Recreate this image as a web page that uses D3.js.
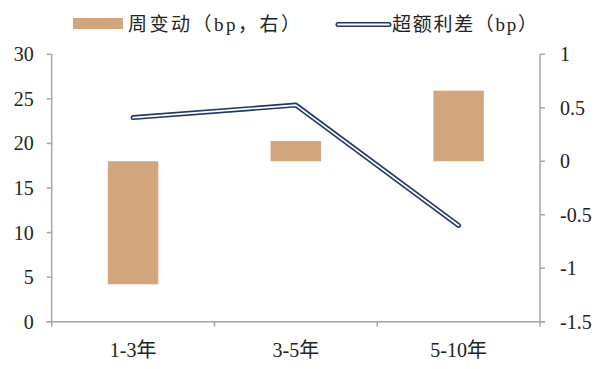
<!DOCTYPE html>
<html>
<head>
<meta charset="utf-8">
<script src="https://cdn.jsdelivr.net/npm/d3@7"></script>
<style>
  body { margin: 0; background: #fff; }
  text { font-family: "Liberation Serif", "Noto Sans CJK SC", serif; fill: #222; }
</style>
</head>
<body>
<div id="chart"></div>
<script>
// chart data
var categories = ["1-3年", "3-5年", "5-10年"];
var weeklyChange = [-1.15, 0.19, 0.66];     // bars, right axis
var excessSpread = [22.9, 24.3, 10.8];      // line, left axis
var leftTicks = [0, 5, 10, 15, 20, 25, 30];
var rightTicks = [-1.5, -1, -0.5, 0, 0.5, 1];
var legendLabels = ["周变动（bp，右）", "超额利差（bp）"];

var width = 603, height = 369;
var plotLeft = 51.7, plotRight = 540, plotTop = 54.3, plotBottom = 321.7;
var barColor = "#d3a57d", lineColor = "#1f3864", axisColor = "#a6a6a6";

var svg = d3.select("#chart").append("svg")
    .attr("width", width)
    .attr("height", height);

var x = d3.scaleBand().domain(categories).range([plotLeft, plotRight]);
var yL = d3.scaleLinear().domain([0, 30]).range([plotBottom, plotTop]);
var yR = d3.scaleLinear().domain([-1.5, 1]).range([plotBottom, plotTop]);

// bars, hanging from 0 of the right axis
var barW = x.bandwidth() * 0.31;
svg.selectAll("rect.bar")
    .data(weeklyChange)
    .enter()
    .append("rect")
    .attr("class", "bar")
    .attr("x", function (d, i) { return x(categories[i]) + x.bandwidth() / 2 - barW / 2; })
    .attr("y", function (d) { return yR(Math.max(0, d)); })
    .attr("width", barW)
    .attr("height", function (d) { return Math.abs(yR(d) - yR(0)); })
    .attr("fill", barColor);

// axes lines
var axes = svg.append("g").attr("stroke", axisColor).attr("stroke-width", 1.5);
axes.append("line").attr("x1", plotLeft).attr("x2", plotLeft).attr("y1", plotTop).attr("y2", plotBottom);
axes.append("line").attr("x1", plotRight).attr("x2", plotRight).attr("y1", plotTop).attr("y2", plotBottom);
axes.append("line").attr("x1", plotLeft - 5).attr("x2", plotRight + 5).attr("y1", plotBottom).attr("y2", plotBottom);

// left ticks
axes.selectAll("line.lt").data(leftTicks).enter().append("line")
    .attr("x1", plotLeft - 5).attr("x2", plotLeft)
    .attr("y1", function (d) { return yL(d); }).attr("y2", function (d) { return yL(d); });
svg.selectAll("text.lt").data(leftTicks).enter().append("text")
    .attr("x", plotLeft - 18).attr("y", function (d) { return yL(d); })
    .attr("dy", "0.35em").attr("text-anchor", "end")
    .style("font-size", "20px")
    .text(function (d) { return d; });

// right ticks
axes.selectAll("line.rt").data(rightTicks).enter().append("line")
    .attr("x1", plotRight).attr("x2", plotRight + 5)
    .attr("y1", function (d) { return yR(d); }).attr("y2", function (d) { return yR(d); });
svg.selectAll("text.rt").data(rightTicks).enter().append("text")
    .attr("x", plotRight + 20).attr("y", function (d) { return yR(d); })
    .attr("dy", "0.35em").attr("text-anchor", "start")
    .style("font-size", "20px")
    .text(function (d) { return String(d); });

// category ticks at band edges
var edges = categories.map(function (c) { return x(c); }).concat([plotRight]);
axes.selectAll("line.ct").data(edges).enter().append("line")
    .attr("x1", function (d) { return d; }).attr("x2", function (d) { return d; })
    .attr("y1", plotBottom).attr("y2", plotBottom + 5);
svg.selectAll("text.ct").data(categories).enter().append("text")
    .attr("x", function (d) { return x(d) + x.bandwidth() / 2; })
    .attr("y", plotBottom + 28)
    .attr("dy", "0.35em").attr("text-anchor", "middle")
    .style("font-size", "20px")
    .text(function (d) { return d; });

// double line: navy outer, white core
var line = d3.line()
    .x(function (d, i) { return x(categories[i]) + x.bandwidth() / 2; })
    .y(function (d) { return yL(d); });
svg.append("path").datum(excessSpread)
    .attr("d", line).attr("fill", "none")
    .attr("stroke", lineColor).attr("stroke-width", 5)
    .attr("stroke-linejoin", "round").attr("stroke-linecap", "round");
svg.append("path").datum(excessSpread)
    .attr("d", line).attr("fill", "none")
    .attr("stroke", "#fff").attr("stroke-width", 1.8)
    .attr("stroke-linejoin", "round").attr("stroke-linecap", "round");

// legend
var lg = svg.append("g");
lg.append("rect").attr("x", 73).attr("y", 18).attr("width", 50).attr("height", 11).attr("fill", barColor);
lg.append("text").attr("x", 128).attr("y", 24).attr("dy", "0.35em")
    .style("font-size", "19px")
    .attr("textLength", 172).attr("lengthAdjust", "spacing")
    .text(legendLabels[0]);
lg.append("line").attr("x1", 338).attr("x2", 389).attr("y1", 24.5).attr("y2", 24.5)
    .attr("stroke", lineColor).attr("stroke-width", 5).attr("stroke-linecap", "round");
lg.append("line").attr("x1", 338).attr("x2", 389).attr("y1", 24.5).attr("y2", 24.5)
    .attr("stroke", "#fff").attr("stroke-width", 1.8).attr("stroke-linecap", "round");
lg.append("text").attr("x", 392).attr("y", 24).attr("dy", "0.35em")
    .style("font-size", "19px")
    .attr("textLength", 145).attr("lengthAdjust", "spacing")
    .text(legendLabels[1]);
</script>
</body>
</html>
